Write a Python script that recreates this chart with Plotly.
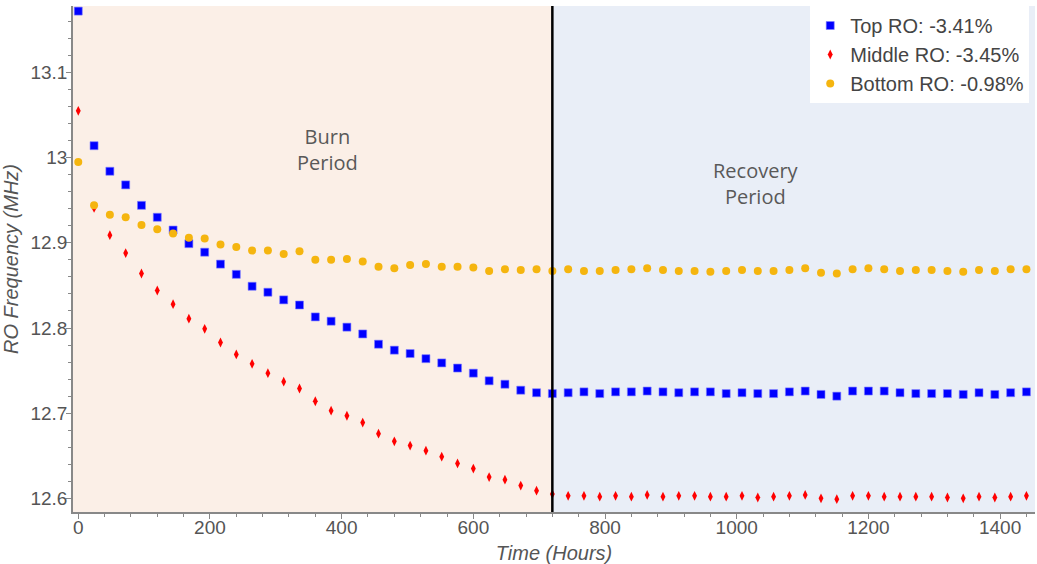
import plotly.graph_objects as go

hours = [24 * i for i in range(61)]

top_ro = [13.172, 13.014, 12.984, 12.968, 12.944, 12.930, 12.915, 12.899, 12.889, 12.875,
          12.863, 12.849, 12.842, 12.833, 12.827, 12.813, 12.808, 12.801, 12.793, 12.781,
          12.774, 12.770, 12.764, 12.759, 12.753, 12.747, 12.738, 12.734, 12.727, 12.724,
          12.723,
          12.724, 12.725, 12.723, 12.725, 12.725, 12.726, 12.725, 12.724, 12.725, 12.725,
          12.723, 12.724, 12.723, 12.723, 12.725, 12.726, 12.722, 12.720, 12.726, 12.726,
          12.726, 12.724, 12.723, 12.723, 12.723, 12.722, 12.724, 12.722, 12.724, 12.725]

middle_ro = [13.055, 12.941, 12.909, 12.888, 12.864, 12.844, 12.828, 12.811, 12.799, 12.783,
             12.769, 12.758, 12.747, 12.737, 12.729, 12.714, 12.703, 12.697, 12.689, 12.676,
             12.667, 12.662, 12.656, 12.649, 12.641, 12.635, 12.625, 12.622, 12.615, 12.609,
             12.605,
             12.603, 12.603, 12.602, 12.603, 12.602, 12.604, 12.602, 12.603, 12.603, 12.602,
             12.602, 12.603, 12.601, 12.602, 12.603, 12.604, 12.600, 12.599, 12.603, 12.603,
             12.602, 12.602, 12.602, 12.602, 12.601, 12.600, 12.602, 12.601, 12.602, 12.603]

bottom_ro = [12.995, 12.944, 12.933, 12.930, 12.921, 12.916, 12.911, 12.906, 12.905, 12.898,
             12.895, 12.891, 12.891, 12.887, 12.890, 12.880, 12.880, 12.881, 12.878, 12.872,
             12.870, 12.874, 12.875, 12.872, 12.872, 12.871, 12.867, 12.869, 12.868, 12.869,
             12.867,
             12.869, 12.867, 12.867, 12.868, 12.869, 12.870, 12.868, 12.867, 12.867, 12.866,
             12.867, 12.868, 12.867, 12.867, 12.868, 12.870, 12.865, 12.864, 12.869, 12.870,
             12.869, 12.867, 12.868, 12.868, 12.867, 12.866, 12.868, 12.867, 12.869, 12.869]

series_names = ["Top RO: -3.41%", "Middle RO: -3.45%", "Bottom RO: -0.98%"]
burn_end = 720
x_range = [-8, 1453]
y_range = [12.584, 13.178]
period_labels = ["Burn<br>Period", "Recovery<br>Period"]
label_pos_x = [378, 1030]
label_pos_y = [13.010, 12.970]

fig = go.Figure()
fig.add_trace(go.Scatter(x=hours, y=top_ro, mode="markers", name=series_names[0],
                         marker=dict(symbol="square", size=8, color="#0000FF",
                                     line=dict(width=0.6, color="#8080FF"))))
fig.add_trace(go.Scatter(x=hours, y=middle_ro, mode="markers", name=series_names[1],
                         marker=dict(symbol="diamond-tall", size=7, color="#FF0000",
                                     line=dict(width=0))))
fig.add_trace(go.Scatter(x=hours, y=bottom_ro, mode="markers", name=series_names[2],
                         marker=dict(symbol="circle", size=8, color="#F5B50F",
                                     line=dict(width=0))))

fig.add_shape(type="rect", xref="x", yref="paper", x0=x_range[0], x1=burn_end, y0=0, y1=1,
              fillcolor="#FBEFE7", line=dict(width=0), layer="below")
fig.add_shape(type="rect", xref="x", yref="paper", x0=burn_end, x1=x_range[1], y0=0, y1=1,
              fillcolor="#E9EEF7", line=dict(width=0), layer="below")
fig.add_shape(type="line", xref="x", yref="paper", x0=burn_end, x1=burn_end, y0=0, y1=1,
              line=dict(width=2.5, color="black"), layer="above")

for txt, ax, ay in zip(period_labels, label_pos_x, label_pos_y):
    fig.add_annotation(x=ax, y=ay, xref="x", yref="y", text=txt, showarrow=False,
                       font=dict(family="Open Sans", size=20, color="#595959"))

axis_font = dict(family="Liberation Sans, Arial", size=19, color="#555555")
title_font = dict(family="Liberation Sans, Arial", size=20, color="#555555", style="italic")

fig.update_xaxes(range=x_range, showgrid=False, zeroline=False, showline=True,
                 linecolor="#888888", linewidth=1.5, ticks="outside", ticklen=5,
                 tickcolor="#888888", dtick=200, tick0=0, tickfont=axis_font,
                 ticklabelstandoff=-8,
                 minor=dict(ticks="outside", dtick=40, ticklen=3, tickcolor="#888888"),
                 title=dict(text="Time (Hours)", font=title_font, standoff=9))
fig.update_yaxes(range=y_range, showgrid=False, zeroline=False, showline=True,
                 linecolor="#888888", linewidth=1.5, ticks="outside", ticklen=5,
                 tickcolor="#888888", dtick=0.1, tick0=12.6, tickfont=axis_font,
                 ticklabelstandoff=-5,
                 minor=dict(ticks="outside", dtick=0.02, ticklen=3, tickcolor="#888888"),
                 title=dict(text="RO Frequency (MHz)", font=title_font, standoff=6))

fig.update_layout(
    width=1037, height=564,
    margin=dict(l=73, r=2, t=6, b=52),
    paper_bgcolor="white", plot_bgcolor="white",
    legend=dict(x=0.994, y=1.0, xanchor="right", yanchor="top", bgcolor="white",
                font=dict(family="Liberation Sans, Arial", size=20, color="#444444"),
                itemsizing="trace", itemwidth=30, tracegroupgap=0, borderwidth=0),
    showlegend=True,
)

fig.write_html("out.html", config={"displayModeBar": False},
               post_script="document.body.style.margin='0';document.body.style.overflow='hidden';")
